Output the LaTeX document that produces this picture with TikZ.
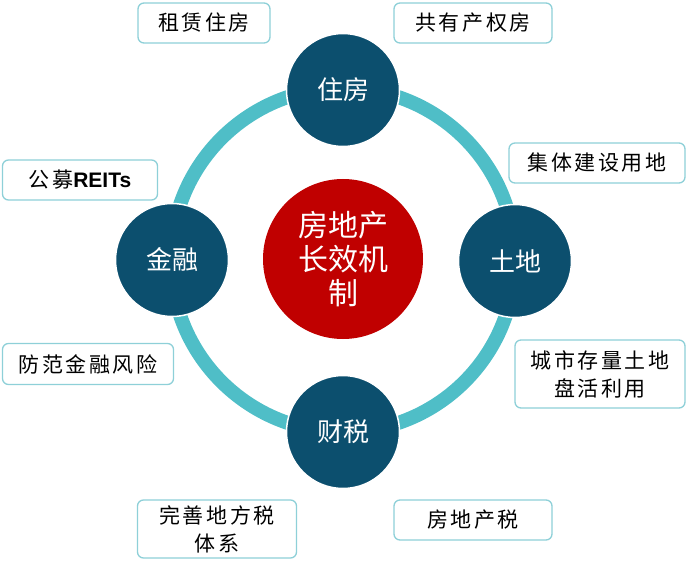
\documentclass[tikz,border=0pt]{standalone}
\usepackage{fontspec}
\setmainfont{Noto Sans CJK SC}
\newfontfamily\latinfont{Liberation Sans}
\newfontfamily\tagfont[LetterSpace=12]{Noto Sans CJK SC}
\definecolor{ringteal}{HTML}{4FBEC7}
\definecolor{hubblue}{HTML}{0C4F6E}
\definecolor{corered}{HTML}{C00000}
\definecolor{tagline}{HTML}{8ED0D8}
\begin{document}
\begin{tikzpicture}[x=1pt,y=-1pt,
  hub/.style={circle,fill=hubblue,draw=white,line width=1.5pt,minimum size=113pt,
    inner sep=0pt,text=white,font=\fontsize{26}{30}\selectfont},
  tag/.style={draw=tagline,line width=1.3pt,rounded corners=6pt,fill=white,
    inner sep=0pt,align=center,font=\tagfont\fontsize{21}{28}\selectfont}]
  \useasboundingbox (0,0) rectangle (688,572);
  % Ring
  \draw[ringteal,line width=14pt] (343,260) circle (172);
  % Core
  \node[circle,fill=corered,minimum size=160pt,inner sep=0pt,text=white,align=center,
    font=\fontsize{30}{34}\selectfont] (core) at (343,259) {房地产\\长效机\\制};
  % Four hubs on the ring
  \node[hub] (housing) at (343,90)  {住房};
  \node[hub] (land)    at (515,261) {土地};
  \node[hub] (tax)     at (343,432) {财税};
  \node[hub] (finance) at (172,260) {金融};
  % Housing tags
  \node[tag,minimum width=132pt,minimum height=40pt] (rent)  at (204,23) {租赁住房};
  \node[tag,minimum width=158pt,minimum height=40pt] (share) at (473,23) {共有产权房};
  % Land tags
  \node[tag,minimum width=176pt,minimum height=40pt] (collective) at (597,163) {集体建设用地};
  \node[tag,minimum width=170pt,minimum height=68pt] (stock)      at (600,374) {城市存量土地\\盘活利用};
  % Tax tags
  \node[tag,minimum width=159pt,minimum height=58pt] (localtax) at (217,529) {完善地方税\\体系};
  \node[tag,minimum width=158pt,minimum height=40pt] (proptax)  at (473,520) {房地产税};
  % Finance tags
  \node[tag,minimum width=155pt,minimum height=40pt] (reits) at (80,180) {公募{\latinfont\bfseries REITs}};
  \node[tag,minimum width=171pt,minimum height=41pt] (risk)  at (88,364) {防范金融风险};
\end{tikzpicture}
\end{document}
